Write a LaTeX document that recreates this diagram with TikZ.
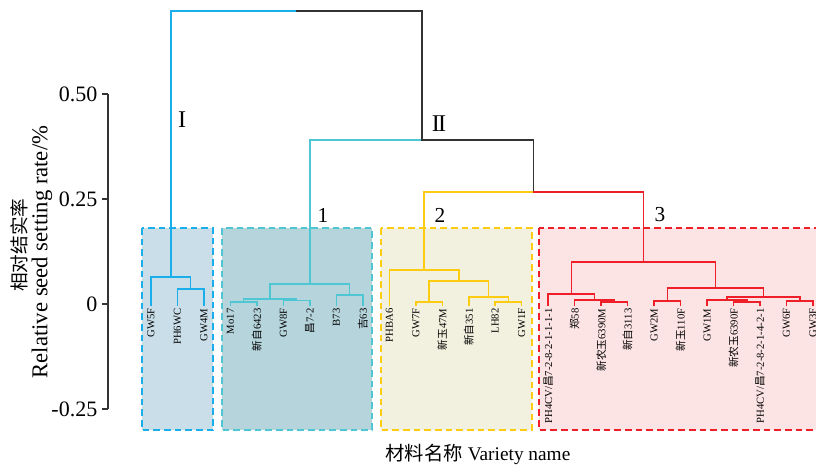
\documentclass[tikz,border=0pt]{standalone}
\usepackage{fontspec}
\setmainfont{Liberation Serif}
\newfontfamily\cjkfont{Noto Sans CJK SC}
\newcommand\zh[1]{{\cjkfont #1}}
\definecolor{cI}{HTML}{1AAFEA}
\definecolor{cA}{HTML}{4EC6D3}
\definecolor{cB}{HTML}{FDCB10}
\definecolor{cC}{HTML}{EE1F29}
\definecolor{cK}{HTML}{333333}
\definecolor{fI}{HTML}{C9DEE8}
\definecolor{fA}{HTML}{B6D4DC}
\definecolor{fB}{HTML}{F2F0DF}
\definecolor{fC}{HTML}{FDE4E4}
\begin{document}
\begin{tikzpicture}[x=0.75pt,y=-0.75pt,
  grpbox/.style={line width=1.5pt,dash pattern=on 5pt off 3pt},
  link/.style={line width=1.1pt,line cap=rect},
  leaf/.style={rotate=90,anchor=east,inner sep=0pt,font=\fontsize{8}{9}\selectfont},
  ticklab/.style={anchor=east,inner sep=0pt,font=\fontsize{16.5}{18}\selectfont},
  clab/.style={inner sep=0pt,font=\fontsize{16}{18}\selectfont},
  rlab/.style={inner sep=0pt,font=\fontsize{18}{20}\selectfont}]
\clip (0,0) rectangle (816,467);

% group boxes
\filldraw[grpbox,fill=fI,draw=cI] (142,228) rectangle (213,430);
\filldraw[grpbox,fill=fA,draw=cA] (222,228) rectangle (372,430);
\filldraw[grpbox,fill=fB,draw=cB] (381,228) rectangle (532,430);
\filldraw[grpbox,fill=fC,draw=cC] (539,228) rectangle (830,430);

% leaves
\coordinate (L0) at (151.0,305);
\coordinate (L1) at (177.5,305);
\coordinate (L2) at (204.0,305);
\coordinate (L3) at (230.4,305);
\coordinate (L4) at (256.9,305);
\coordinate (L5) at (283.4,305);
\coordinate (L6) at (309.9,305);
\coordinate (L7) at (336.4,305);
\coordinate (L8) at (362.8,305);
\coordinate (L9) at (389.3,305);
\coordinate (L10) at (415.8,305);
\coordinate (L11) at (442.3,305);
\coordinate (L12) at (468.8,305);
\coordinate (L13) at (495.2,305);
\coordinate (L14) at (521.7,305);
\coordinate (L15) at (548.2,305);
\coordinate (L16) at (574.7,305);
\coordinate (L17) at (601.2,305);
\coordinate (L18) at (627.6,305);
\coordinate (L19) at (654.1,305);
\coordinate (L20) at (680.6,305);
\coordinate (L21) at (707.1,305);
\coordinate (L22) at (733.6,305);
\coordinate (L23) at (760.0,305);
\coordinate (L24) at (786.5,305);
\coordinate (L25) at (813.0,305);

% merge points
\coordinate (nA) at (190.7,289);
\coordinate (gI) at (170.9,277);
\coordinate (c1a) at (243.6,302);
\coordinate (c1b) at (296.6,300.5);
\coordinate (c1c) at (270.1,299);
\coordinate (c1d) at (349.6,295);
\coordinate (c1) at (309.9,284);
\coordinate (c2a) at (429.0,302);
\coordinate (c2b) at (508.5,302);
\coordinate (c2c) at (488.6,297);
\coordinate (c2d) at (458.8,281);
\coordinate (c2) at (424.0,270);
\coordinate (c3a) at (614.4,302);
\coordinate (c3b) at (594.6,300);
\coordinate (c3c) at (571.4,294);
\coordinate (c3d) at (667.4,301);
\coordinate (c3e) at (746.8,302);
\coordinate (c3f) at (726.9,300);
\coordinate (c3g) at (799.8,301);
\coordinate (c3h) at (763.4,297);
\coordinate (c3i) at (715.4,288);
\coordinate (c3) at (643.4,262);
\coordinate (n23) at (533.7,192);
\coordinate (nII) at (421.8,140);
\coordinate (root) at (296.4,11);

% dendrogram links
\begin{scope}[link]
\draw[cI] (root) -| (gI);
\draw[cK] (root) -| (nII);
\draw[cA] (nII) -| (c1);
\draw[cK] (nII) -| (n23);
\draw[cB] (n23) -| (c2);
\draw[cC] (n23) -| (c3);
% group I
\draw[cI] (gI) -| (L0) (gI) -| (nA) (nA) -| (L1) (nA) -| (L2);
% cluster 1
\draw[cA] (c1) -| (c1c) (c1) -| (c1d) (c1c) -| (c1a) (c1c) -| (c1b)
  (c1a) -| (L3) (c1a) -| (L4) (c1b) -| (L5) (c1b) -| (L6)
  (c1d) -| (L7) (c1d) -| (L8);
% cluster 2
\draw[cB] (c2) -| (L9) (c2) -| (c2d) (c2d) -| (c2a) (c2d) -| (c2c)
  (c2a) -| (L10) (c2a) -| (L11) (c2c) -| (L12) (c2c) -| (c2b)
  (c2b) -| (L13) (c2b) -| (L14);
% cluster 3
\draw[cC] (c3) -| (c3c) (c3) -| (c3i) (c3c) -| (L15) (c3c) -| (c3b)
  (c3b) -| (L16) (c3b) -| (c3a) (c3a) -| (L17) (c3a) -| (L18)
  (c3i) -| (c3d) (c3i) -| (c3h) (c3d) -| (L19) (c3d) -| (L20)
  (c3h) -| (c3f) (c3h) -| (c3g) (c3f) -| (L21) (c3f) -| (c3e)
  (c3e) -| (L22) (c3e) -| (L23) (c3g) -| (L24) (c3g) -| (L25);
\end{scope}

% leaf labels
\node[leaf] (t0) at ([yshift=-2.5pt]L0) {GW5F};
\node[leaf] (t1) at ([yshift=-2.5pt]L1) {PH6WC};
\node[leaf] (t2) at ([yshift=-2.5pt]L2) {GW4M};
\node[leaf] (t3) at ([yshift=-2.5pt]L3) {Mo17};
\node[leaf] (t4) at ([yshift=-2.5pt]L4) {\zh{新自}6423};
\node[leaf] (t5) at ([yshift=-2.5pt]L5) {GW8F};
\node[leaf] (t6) at ([yshift=-2.5pt]L6) {\zh{昌}7-2};
\node[leaf] (t7) at ([yshift=-2.5pt]L7) {B73};
\node[leaf] (t8) at ([yshift=-2.5pt]L8) {\zh{吉}63};
\node[leaf] (t9) at ([yshift=-2.5pt]L9) {PHBA6};
\node[leaf] (t10) at ([yshift=-2.5pt]L10) {GW7F};
\node[leaf] (t11) at ([yshift=-2.5pt]L11) {\zh{新玉}47M};
\node[leaf] (t12) at ([yshift=-2.5pt]L12) {\zh{新自}351};
\node[leaf] (t13) at ([yshift=-2.5pt]L13) {LH82};
\node[leaf] (t14) at ([yshift=-2.5pt]L14) {GW1F};
\node[leaf] (t15) at ([yshift=-2.5pt]L15) {PH4CV/\zh{昌}7-2-8-2-1-1-1-1};
\node[leaf] (t16) at ([yshift=-2.5pt]L16) {\zh{郑}58};
\node[leaf] (t17) at ([yshift=-2.5pt]L17) {\zh{新农玉}6390M};
\node[leaf] (t18) at ([yshift=-2.5pt]L18) {\zh{新自}3113};
\node[leaf] (t19) at ([yshift=-2.5pt]L19) {GW2M};
\node[leaf] (t20) at ([yshift=-2.5pt]L20) {\zh{新玉}110F};
\node[leaf] (t21) at ([yshift=-2.5pt]L21) {GW1M};
\node[leaf] (t22) at ([yshift=-2.5pt]L22) {\zh{新农玉}6390F};
\node[leaf] (t23) at ([yshift=-2.5pt]L23) {PH4CV/\zh{昌}7-2-8-2-1-4-2-1};
\node[leaf] (t24) at ([yshift=-2.5pt]L24) {GW6F};
\node[leaf] (t25) at ([yshift=-2.5pt]L25) {GW3F};

% cluster labels
\node[rlab] (rI) at (182,120) {I};
\node[rlab] (rII) at (439,124) {I\kern-0.07em I};
\node[clab] (k1) at (323,215) {1};
\node[clab] (k2) at (440,215) {2};
\node[clab] (k3) at (660,215) {3};

% y axis
\coordinate (ytop) at (108,94);
\coordinate (ybot) at (108,409);
\draw[cK,line width=1.1pt] (ytop) -- (ybot);
\foreach \yy/\lab [count=\k] in {94/0.50,199/0.25,304/0,409/-0.25}{
  \coordinate (tk\k) at (108,\yy);
  \draw[cK,line width=1.1pt] (tk\k) -- ++(-4.5pt,0) node[ticklab,xshift=-3pt,black] (tl\k) {\lab};
}
\node[rotate=90,inner sep=0pt,font=\fontsize{14}{16}\selectfont\cjkfont] (ytzh) at (19,245) {相对结实率};
\node[rotate=90,inner sep=0pt,font=\fontsize{17}{19}\selectfont] (yten) at (42,252) {Relative seed setting rate/\%};

% x axis title
\node[inner sep=0pt,font=\fontsize{14.5}{16}\selectfont] (xt) at (478,454) {\zh{材料名称} Variety name};
\end{tikzpicture}
\end{document}
